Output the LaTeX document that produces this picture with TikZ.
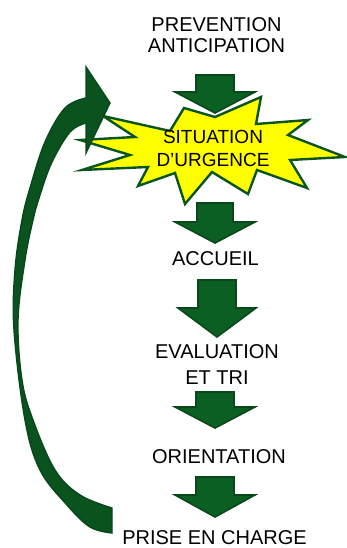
\documentclass[tikz,border=0pt]{standalone}
\usepackage{fontspec}
\setmainfont{Liberation Sans}
\definecolor{arrowfill}{RGB}{11,95,35}
\definecolor{arrowline}{RGB}{8,72,26}
\definecolor{curvefill}{RGB}{10,82,30}
\definecolor{burstline}{RGB}{10,85,30}
\definecolor{burstfill}{RGB}{255,255,0}
\newcommand\blockarrow[6]{%
  \filldraw[barrow] (#1-#5,#2) -- (#1+#5,#2) -- (#1+#5,#3) -- (#1+#6,#3)
    -- (#1,#4) -- (#1-#6,#3) -- (#1-#5,#3) -- cycle;}
\begin{document}
\begin{tikzpicture}[x=1pt,y=-1pt,
  barrow/.style={fill=arrowfill,draw=arrowline,line width=1.6pt,line join=miter},
  lbl/.style={inner sep=0pt,align=center,text=black},
  big/.style={font=\fontsize{20}{21}\selectfont}]
\useasboundingbox (0,0) rectangle (347,548);
% starburst
\filldraw[fill=burstfill,draw=burstline,line width=2.4pt,line join=miter]
  (103,116) -- (170,131) -- (184,108) -- (215,117) -- (261,97) -- (256,124)
  -- (308,120) -- (288,135) -- (345,157) -- (290,160) -- (307,188) -- (257,170)
  -- (248,194) -- (212,172) -- (185,204) -- (175,173) -- (138,186) -- (148,167)
  -- (82,170) -- (130,155) -- (80,140) -- (135,137) -- cycle;
% block arrows
\blockarrow{215}{75}{92}{113}{19}{40}
\blockarrow{215}{203}{222}{243}{18}{40}
\blockarrow{217}{280}{308}{337}{19}{39}
\blockarrow{215}{392}{407}{428}{19}{40}
\blockarrow{215}{477}{495}{517}{19}{40}
% curved return arrow
\filldraw[fill=curvefill,draw=arrowline,line width=1.4pt,line join=miter]
  (112,508) -- (112,533)
  -- plot[smooth,tension=0.6] coordinates {(112,533) (90,527) (67,505) (40,470) (25,420) (14,330) (15,270) (22,220) (30,188) (45,142) (65,108) (86,98)}
  -- (86,67) -- (110,103) -- (86,153) -- (86,123)
  -- plot[smooth,tension=0.6] coordinates {(86,123) (70,132) (52,162) (40,195) (33,220) (25,260) (18,320) (22,380) (33,420) (55,470) (80,495) (112,508)}
  -- cycle;
% labels
\node[lbl,big] (prev) at (216.5,35.5) {PREVENTION\\ANTICIPATION};
\node[lbl,font=\fontsize{19}{23}\selectfont] (sit) at (213,148) {SITUATION\\D’URGENCE};
\node[lbl,big] (acc) at (215.5,258.5) {ACCUEIL};
\node[lbl,font=\fontsize{20}{26}\selectfont] (eval) at (217,365) {EVALUATION\\ET TRI};
\node[lbl,big] (ori) at (219,456.5) {ORIENTATION};
\node[lbl,big] (pec) at (214.5,537.5) {PRISE EN CHARGE};
\end{tikzpicture}
\end{document}
